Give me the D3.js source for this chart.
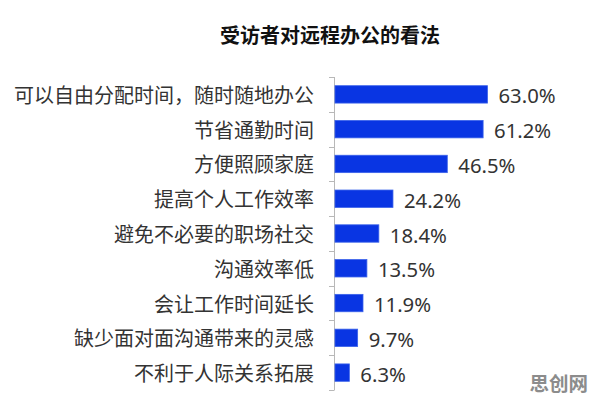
<!DOCTYPE html>
<html><head><meta charset="utf-8">
<script src="https://cdn.jsdelivr.net/npm/d3@7"></script>
<style>
html,body{margin:0;padding:0;background:#fff;}
svg{display:block;font-family:"Noto Sans","Noto Sans CJK SC",sans-serif;}
</style></head>
<body>
<svg id="chart" width="596" height="401"></svg>
<script>
const title = "受访者对远程办公的看法";
const categories = ["可以自由分配时间，随时随地办公","节省通勤时间","方便照顾家庭","提高个人工作效率","避免不必要的职场社交","沟通效率低","会让工作时间延长","缺少面对面沟通带来的灵感","不利于人际关系拓展"];
const values = [63.0,61.2,46.5,24.2,18.4,13.5,11.9,9.7,6.3];
const watermark = "思创网";

const svg = d3.select("#chart");
const x0 = 334;
const x = d3.scaleLinear().domain([0, 63.0]).range([x0, 487.5]);
const y = d3.scaleBand().domain(categories).range([77, 390]).paddingInner(0.5).paddingOuter(0.25);

svg.append("text").attr("x", 330).attr("y", 34).attr("text-anchor","middle")
  .attr("dominant-baseline","central").attr("font-size",20).attr("font-weight","bold")
  .attr("fill","#111").attr("font-family","'Noto Sans CJK SC',sans-serif").text(title);

// axis line & ticks between categories
const step = y.step();
const tickYs = categories.map(c => y(c) - step*0.25).concat([y(categories[categories.length-1]) + y.bandwidth() + step*0.25]);
svg.append("line").attr("x1",x0+0.5).attr("x2",x0+0.5).attr("y1",tickYs[0]).attr("y2",tickYs[tickYs.length-1])
  .attr("stroke","#b8b8b8").attr("stroke-width",1);
svg.selectAll(".tick").data(tickYs).join("line").attr("class","tick")
  .attr("x1",x0-5).attr("x2",x0+0.5).attr("y1",d=>Math.round(d)+0.5).attr("y2",d=>Math.round(d)+0.5)
  .attr("stroke","#b8b8b8").attr("stroke-width",1);

svg.selectAll(".bar").data(values).join("rect").attr("class","bar")
  .attr("x", x0+1).attr("y",(d,i)=>y(categories[i]))
  .attr("width",d=>x(d)-x0-1).attr("height",y.bandwidth())
  .attr("fill","#0935e3").attr("stroke","#3a62ea").attr("stroke-width",0.8);

svg.selectAll(".lab").data(categories).join("text").attr("class","lab")
  .attr("x",314).attr("y",d=>y(d)+y.bandwidth()/2).attr("text-anchor","end")
  .attr("dominant-baseline","central").attr("font-size",20).attr("fill","#333")
  .attr("font-family","'Noto Sans CJK SC',sans-serif").text(d=>d);

svg.selectAll(".val").data(values).join("text").attr("class","val")
  .attr("x",d=>x(d)+11).attr("y",(d,i)=>y(categories[i])+y.bandwidth()/2+1)
  .attr("dominant-baseline","central").attr("font-size",20.3).attr("fill","#333")
  .text(d=>d.toFixed(1)+"%");

svg.append("text").attr("x",588).attr("y",382).attr("text-anchor","end")
  .attr("dominant-baseline","central").attr("font-size",19.5).attr("font-weight","bold")
  .attr("fill","#8c8c8c").attr("font-family","'Noto Sans CJK SC',sans-serif").text(watermark);
</script>
</body></html>
